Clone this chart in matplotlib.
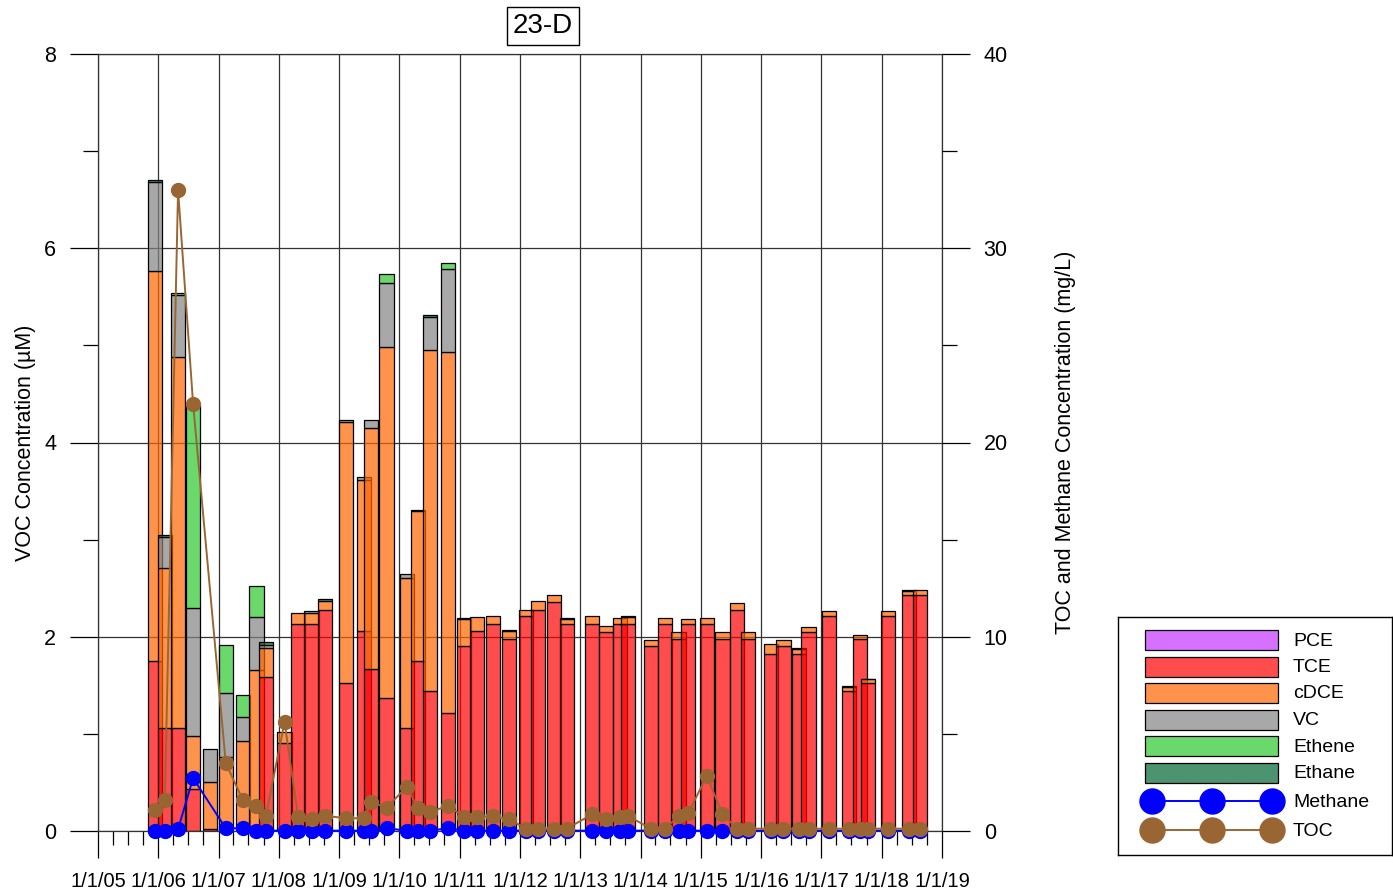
import numpy as np
import matplotlib
matplotlib.use("Agg")
import matplotlib.pyplot as plt
import matplotlib.dates as mdates
from matplotlib.patches import Rectangle
from matplotlib.ticker import MultipleLocator, FuncFormatter
from matplotlib.colors import to_rgba
import datetime as dt

plt.rcParams['font.family'] = ['Liberation Sans', 'DejaVu Sans']

# ---------------- data ----------------
sample_dates = [
    "2005-12-12", "2006-02-10", "2006-05-01", "2006-07-31", "2006-11-11", "2007-02-14", "2007-05-28",
    "2007-08-19", "2007-10-15", "2008-02-05", "2008-04-28", "2008-07-18", "2008-10-09", "2009-02-11",
    "2009-06-02", "2009-07-12", "2009-10-15", "2010-02-15", "2010-04-22", "2010-07-06", "2010-10-23",
    "2011-01-28", "2011-04-15", "2011-07-21", "2011-10-27", "2012-02-08", "2012-04-21", "2012-07-25",
    "2012-10-12", "2013-03-13", "2013-06-06", "2013-08-31", "2013-10-18", "2014-03-04", "2014-05-29",
    "2014-08-19", "2014-10-16", "2015-02-06", "2015-05-12", "2015-08-07", "2015-10-15", "2016-03-01",
    "2016-05-15", "2016-08-18", "2016-10-15", "2017-02-15", "2017-06-16", "2017-08-23", "2017-10-11",
    "2018-02-09", "2018-06-16", "2018-08-22"]

pce = [0.0] * 52
tce = [1.75, 1.06, 1.06, 0.43, 0.02, 0.00, 0.00, 0.00, 1.59,
       0.91, 2.13, 2.13, 2.28, 1.52, 2.06, 1.67, 1.37,
       1.06, 1.75, 1.44, 1.22, 1.90, 2.06, 2.13, 1.98,
       2.21, 2.28, 2.36, 2.13, 2.13, 2.05, 2.13, 2.13,
       1.90, 2.13, 1.98, 2.13, 2.13, 1.98, 2.28, 1.98,
       1.825, 1.90, 1.825, 2.05, 2.21, 1.44, 1.98, 1.52,
       2.21, 2.43, 2.43]
cdce = [4.02, 1.65, 3.82, 0.55, 0.48, 0.76, 0.93, 1.66, 0.29,
        0.11, 0.11, 0.11, 0.09, 2.69, 1.55, 2.48, 3.61,
        1.55, 1.54, 3.51, 3.71, 0.28, 0.14, 0.08, 0.08,
        0.07, 0.09, 0.07, 0.05, 0.08, 0.06, 0.06, 0.07,
        0.07, 0.06, 0.07, 0.05, 0.06, 0.07, 0.07, 0.07,
        0.105, 0.065, 0.045, 0.05, 0.055, 0.04, 0.04, 0.04,
        0.05, 0.04, 0.05]
vc = [0.91, 0.32, 0.64, 1.32, 0.34, 0.66, 0.24, 0.54, 0.03,
      0.00, 0.00, 0.03, 0.00, 0.02, 0.035, 0.08, 0.66,
      0.04, 0.00, 0.34, 0.86] + [0.0] * 31
ethene = [0.00, 0.00, 0.02, 2.09, 0.00, 0.49, 0.23, 0.32, 0.00,
          0.00, 0.00, 0.00, 0.00, 0.00, 0.00, 0.00, 0.10,
          0.00, 0.00, 0.00, 0.06] + [0.0] * 31
ethane = [0.02, 0.02, 0.00, 0.00, 0.00, 0.00, 0.00, 0.00, 0.04,
          0.00, 0.00, 0.00, 0.02, 0.00, 0.00, 0.00, 0.00,
          0.00, 0.01, 0.02, 0.00, 0.01, 0.00, 0.00, 0.01,
          0.00, 0.00, 0.00, 0.01, 0.00, 0.00, 0.00, 0.01,
          0.00, 0.00, 0.00, 0.00, 0.00, 0.00, 0.00, 0.00,
          0.00, 0.00, 0.01, 0.00, 0.00, 0.01, 0.00, 0.01,
          0.00, 0.01, 0.00]

nan = float("nan")
toc = [1.10, 1.62, 33.0, 22.0, nan, 3.49, 1.61, 1.30, 0.78,
       5.60, 0.70, 0.60, 0.78, 0.66, 0.65, 1.49, 1.19,
       2.29, 1.18, 0.98, 1.30, 0.72, 0.72, 0.76, 0.60,
       0.12, 0.12, 0.12, 0.12, 0.86, 0.63, 0.72, 0.77,
       0.12, 0.12, 0.77, 0.91, 2.83, 0.89, 0.12, 0.12,
       0.12, 0.12, 0.12, 0.12, 0.12, 0.12, 0.12, 0.12,
       0.12, 0.12, 0.12]
methane = [0.02, 0.02, 0.10, 2.72, nan, 0.14, 0.14, 0.02, 0.02,
           0.02, 0.02, 0.02, 0.02, 0.02, 0.02, 0.02, 0.14,
           0.02, 0.02, 0.02, 0.14] + [0.02] * 31

series_names = ["PCE", "TCE", "cDCE", "VC", "Ethene", "Ethane"]
series_colors = ["#C433FF", "#FF0000", "#FF6600", "#838383", "#2DC82D", "#006633"]
line_names = ["Methane", "TOC"]
line_colors = ["#0000FF", "#996633"]

# ---------------- figure ----------------
W, H = 1393, 893
fig = plt.figure(figsize=(W / 100, H / 100), dpi=100)
x0, x1, y0, y1 = 98, 942, 54, 831
ax = fig.add_axes([x0 / W, 1 - y1 / H, (x1 - x0) / W, (y1 - y0) / H])

dates = [dt.datetime.strptime(s, "%Y-%m-%d") for s in sample_dates]
xnum = mdates.date2num(dates)
bar_w = 87  # days
ALPHA = 0.7

stack = [pce, tce, cdce, vc, ethene, ethane]
# draw bars sample by sample so later samples sit on top of earlier ones
for i in range(len(dates)):
    b = 0.0
    for vals, col in zip(stack, series_colors):
        v = vals[i]
        if v > 0:
            ax.bar(xnum[i], v, bottom=b, width=bar_w, color=to_rgba(col, ALPHA),
                   edgecolor="black", linewidth=0.9, zorder=2)
            b += v

ax.set_xlim(mdates.date2num(dt.datetime(2005, 1, 1)), mdates.date2num(dt.datetime(2019, 1, 1)))
ax.set_ylim(0, 8)
ax.yaxis.set_major_locator(MultipleLocator(2))
ax.yaxis.set_minor_locator(MultipleLocator(1))
ax.xaxis.set_major_locator(mdates.YearLocator())
ax.xaxis.set_minor_locator(mdates.MonthLocator(bymonth=[1, 4, 7, 10]))


def fmt_date(x, pos=None):
    d = mdates.num2date(x)
    return f"{d.month}/{d.day}/{d:%y}"


ax.xaxis.set_major_formatter(FuncFormatter(fmt_date))
ax.set_axisbelow(True)
ax.grid(True, which="major", axis="both", color="#333333", linewidth=0.9)
for s in ax.spines.values():
    s.set_color("#333333")
    s.set_linewidth(0.9)

ax.tick_params(axis="y", which="major", length=20, width=0.9, pad=10, labelsize=15.5, direction="out")
ax.tick_params(axis="y", which="minor", length=10.5, width=0.9, direction="out")
ax.tick_params(axis="x", which="major", length=19.5, width=0.9, pad=10, labelsize=14.5, direction="out")
ax.tick_params(axis="x", which="minor", length=10, width=0.9, direction="out")
ax.set_ylabel("VOC Concentration (µM)", fontsize=15.5)
ax.yaxis.set_label_coords(-0.073, 0.5)

# right axis
ax2 = ax.twinx()
ax2.set_ylim(0, 40)
ax2.yaxis.set_major_locator(MultipleLocator(10))
ax2.yaxis.set_minor_locator(MultipleLocator(5))
ax2.tick_params(axis="y", which="major", length=20, width=0.9, pad=10, labelsize=15.5, direction="out")
ax2.tick_params(axis="y", which="minor", length=10.5, width=0.9, direction="out")
for s in ax2.spines.values():
    s.set_visible(False)
ax2.set_ylabel("TOC and Methane Concentration (mg/L)", fontsize=15.5)
ax2.yaxis.set_label_coords(1.134, 0.5)

for vals, col in zip([methane, toc], line_colors):
    arr = np.array(vals, dtype=float)
    m = ~np.isnan(arr)
    ax2.plot(xnum[m], arr[m], color=col, linewidth=1.4, marker="o", markersize=10,
             markeredgecolor=col, markerfacecolor=col, zorder=3, clip_on=False)

# title box
fig.text(543 / W, 1 - 26 / H, "23-D", fontsize=20, ha="center", va="center",
         bbox=dict(boxstyle="square,pad=0.22", facecolor="white", edgecolor="black", linewidth=1))

# ---------------- legend (drawn in pixel coordinates) ----------------
lx0, lx1, ly0, ly1 = 1118, 1392, 617, 855
lax = fig.add_axes([lx0 / W, 1 - ly1 / H, (lx1 - lx0) / W, (ly1 - ly0) / H])
lax.set_xlim(lx0, lx1)
lax.set_ylim(ly1, ly0)
lax.set_xticks([])
lax.set_yticks([])
for s in lax.spines.values():
    s.set_color("black")
    s.set_linewidth(1)
row_y = [640, 666.5, 693, 719.5, 746, 772.5, 801, 830]
for name, col, yy in zip(series_names, series_colors, row_y[:6]):
    lax.add_patch(Rectangle((1145, yy - 10), 133, 20, facecolor=to_rgba(col, ALPHA),
                            edgecolor="black", linewidth=0.9))
    lax.text(1293, yy + 1, name, fontsize=14, va="center", ha="left")
for name, col, yy in zip(line_names, line_colors, row_y[6:]):
    lax.plot([1152, 1212, 1272], [yy] * 3, color=col, linewidth=1.4, marker="o",
             markersize=18, markerfacecolor=col, markeredgecolor=col)
    lax.text(1293, yy + 1, name, fontsize=14, va="center", ha="left")

fig.savefig("out.png", dpi=100)
